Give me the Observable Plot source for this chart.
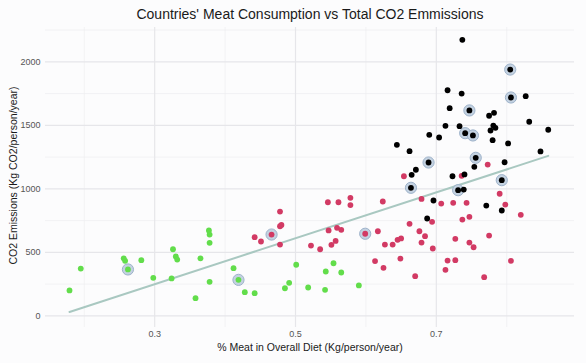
<!DOCTYPE html>
<html>
<head>
<meta charset="utf-8">
<script src="https://cdn.jsdelivr.net/npm/d3@7"></script>
<script src="https://cdn.jsdelivr.net/npm/@observablehq/plot@0.6"></script>
<style>
  body { margin: 0; background: #fcfcfd; }
  #chart svg { display: block; font-family: "Liberation Sans", Arial, sans-serif; }
</style>
</head>
<body>
<div id="chart"></div>
<script>
const title = "Countries' Meat Consumption vs Total CO2 Emmissions";
const xTitle = "% Meat in Overall Diet (Kg/person/year)";
const yTitle = "CO2 Emissions (Kg CO2/person/year)";

const xMajor = [0.3, 0.5, 0.7];
const xMinor = [0.2, 0.4, 0.6, 0.8];
const yMajor = [0, 500, 1000, 1500, 2000];
const yMinor = [250, 750, 1250, 1750, 2250];

// Low group (green)
const greenX = [0.179,0.195,0.256,0.258,0.262,0.281,0.298,0.326,0.330,0.332,0.324,0.358,0.365,0.377,0.378,0.378,0.378,0.412,0.419,0.428,0.442,0.485,0.491,0.501,0.518,0.542,0.543,0.554,0.565,0.590];
const greenY = [200,372,453,433,365,438,299,524,467,443,294,139,453,672,640,575,268,375,283,186,178,217,260,402,223,205,349,414,341,239];
const greenHL = [0,0,0,0,1,0,0,0,0,0,0,0,0,0,0,0,0,0,1,0,0,0,0,0,0,0,0,0,0,0];

// Middle group (red)
const redX = [0.442,0.451,0.466,0.478,0.478,0.480,0.478,0.522,0.535,0.546,0.547,0.551,0.557,0.559,0.565,0.561,0.578,0.578,0.599,0.613,0.617,0.624,0.654,0.736,0.773,0.790,0.679,0.707,0.724,0.743,0.798,0.820,0.694,0.662,0.737,0.747,0.676,0.684,0.775,0.727,0.645,0.650,0.627,0.638,0.679,0.747,0.753,0.695,0.649,0.625,0.716,0.727,0.713,0.806,0.670,0.768];
const redY = [619,585,640,821,705,716,561,553,524,894,672,559,590,693,677,894,929,872,646,431,666,900,1099,1102,1191,961,920,884,890,890,876,795,740,724,758,779,666,627,632,606,598,609,561,561,577,577,540,530,451,378,435,438,362,433,312,304];
const redHL = [0,0,1,0,0,0,0,0,0,0,0,0,0,0,0,0,0,0,1,0,0,0,0,0,0,0,0,0,0,0,0,0,0,0,0,0,0,0,0,0,0,0,0,0,0,0,0,0,0,0,0,0,0,0,0,0];

// High group (black)
const blackX = [0.737,0.805,0.806,0.827,0.716,0.736,0.719,0.747,0.775,0.782,0.832,0.859,0.713,0.733,0.781,0.784,0.777,0.741,0.752,0.690,0.704,0.780,0.644,0.662,0.802,0.848,0.756,0.689,0.754,0.797,0.671,0.665,0.723,0.740,0.664,0.731,0.739,0.793,0.696,0.771,0.793,0.687];
const blackY = [2173,1939,1719,1729,1776,1750,1635,1617,1575,1598,1528,1465,1496,1493,1498,1480,1459,1438,1420,1425,1404,1383,1346,1296,1357,1294,1244,1207,1173,1209,1150,1110,1099,1113,1008,989,994,1068,908,868,829,766];
const blackHL = [0,1,1,0,0,0,0,1,0,0,0,0,0,0,0,0,0,1,1,0,0,0,0,0,0,0,1,1,0,0,0,0,0,0,1,1,0,1,0,0,0,0];

const groups = ["low", "mid", "high"];
const groupColors = ["#62dd4b", "#d23a64", "#000000"];

const data = [];
[[greenX, greenY, greenHL], [redX, redY, redHL], [blackX, blackY, blackHL]].forEach(([xs, ys, hs], gi) => {
  xs.forEach((x, i) => data.push({x, y: ys[i], hl: hs[i] === 1, group: groups[gi]}));
});

const font = "Liberation Sans, Arial, sans-serif";

const chart = Plot.plot({
  width: 586,
  height: 363,
  marginTop: 27,
  marginBottom: 36,
  marginLeft: 45,
  marginRight: 12,
  style: {background: "#fcfcfd", fontFamily: font},
  x: {domain: [0.1449, 0.8963], axis: null},
  y: {domain: [-92, 2270], axis: null},
  color: {domain: groups, range: groupColors},
  marks: [
    Plot.ruleX(xMinor, {stroke: "#eeeef1", strokeWidth: 0.7}),
    Plot.ruleY(yMinor, {stroke: "#eeeef1", strokeWidth: 0.7}),
    Plot.ruleX(xMajor, {stroke: "#e6e6ea", strokeWidth: 1.2}),
    Plot.ruleY(yMajor, {stroke: "#e6e6ea", strokeWidth: 1.2}),
    Plot.axisX(xMajor, {tickSize: 0, tickPadding: 3, fontSize: 9, fill: "#555", label: null, tickFormat: d3.format(".1f")}),
    Plot.axisY(yMajor, {tickSize: 0, tickPadding: 5, fontSize: 9, fill: "#555", label: null, tickFormat: d => String(d)}),
    Plot.linearRegressionY(data, {x: "x", y: "y", stroke: "#a9c8c1", strokeWidth: 2, ci: 0}),
    Plot.dot(data.filter(d => d.hl), {x: "x", y: "y", r: 5.6, fill: "#c4d2e1", stroke: "#9db2ca", strokeWidth: 1}),
    Plot.dot(data, {x: "x", y: "y", r: 2.9, fill: "group"}),
    Plot.text([title], {frameAnchor: "top", lineAnchor: "middle", dy: -13, fontSize: 14, fill: "#1a1a1a"}),
    Plot.text([xTitle], {frameAnchor: "bottom", lineAnchor: "middle", dy: 20, fontSize: 10.5, fill: "#1a1a1a"}),
    Plot.text([yTitle], {frameAnchor: "left", textAnchor: "middle", lineAnchor: "middle", dx: -32, dy: -2, rotate: -90, fontSize: 10.5, fill: "#1a1a1a"})
  ]
});

document.getElementById("chart").appendChild(chart);
</script>
</body>
</html>
